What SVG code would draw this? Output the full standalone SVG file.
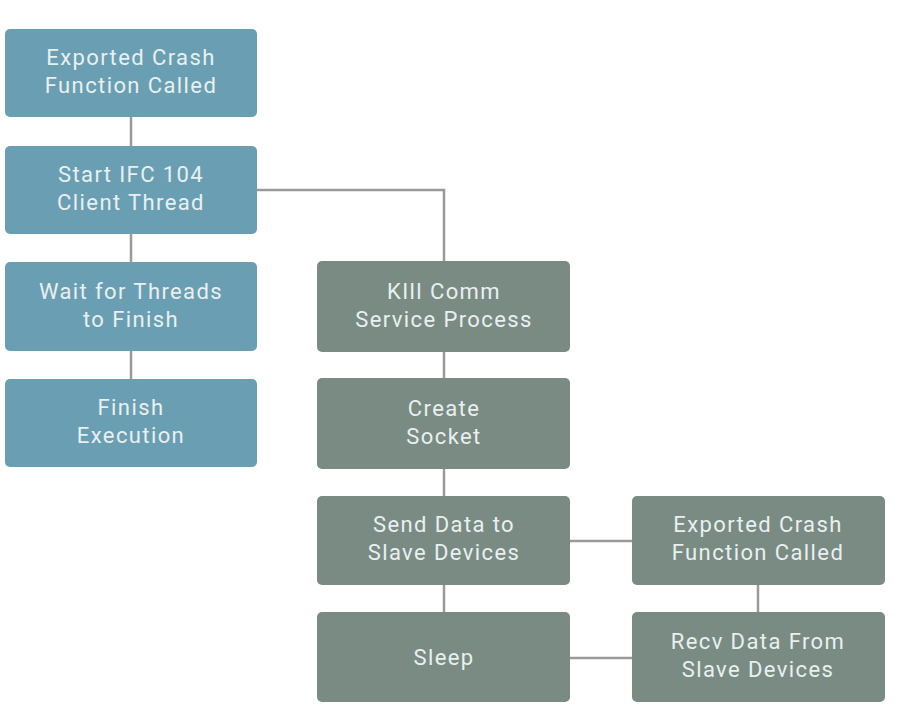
<svg xmlns="http://www.w3.org/2000/svg" width="901" height="724" viewBox="0 0 901 724">
<style>
.b rect{fill:#6a9fb3}
.g rect{fill:#7a8b84}
text{font-family:"Roboto","Liberation Sans",sans-serif;font-size:22px;letter-spacing:1.4px;fill:#e9f0f0;text-anchor:middle}
.c{stroke:#9a9a9a;stroke-width:2.5;fill:none}
</style>
<rect width="901" height="724" fill="#ffffff"/>
<g id="connectors">
<path class="c" d="M131 117V146M131 234V262M131 351V379"/>
<path class="c" d="M257 190H444V261M444 352V378M444 469V496M444 585V612"/>
<path class="c" d="M570 541H632M758 585V612M570 658H632"/>
</g>
<g id="n1" class="b"><rect x="5" y="29" width="252" height="88" rx="5"/><text x="131" y="65">Exported Crash</text><text x="131" y="93">Function Called</text></g>
<g id="n2" class="b"><rect x="5" y="146" width="252" height="88" rx="5"/><text x="131" y="182">Start IFC 104</text><text x="131" y="210">Client Thread</text></g>
<g id="n3" class="b"><rect x="5" y="262" width="252" height="89" rx="5"/><text x="131" y="299">Wait for Threads</text><text x="131" y="327">to Finish</text></g>
<g id="n4" class="b"><rect x="5" y="379" width="252" height="88" rx="5"/><text x="131" y="415">Finish</text><text x="131" y="443">Execution</text></g>
<g id="n5" class="g"><rect x="317" y="261" width="253" height="91" rx="5"/><text x="444" y="299">KIll Comm</text><text x="444" y="327">Service Process</text></g>
<g id="n6" class="g"><rect x="317" y="378" width="253" height="91" rx="5"/><text x="444" y="416">Create</text><text x="444" y="444">Socket</text></g>
<g id="n7" class="g"><rect x="317" y="496" width="253" height="89" rx="5"/><text x="444" y="532">Send Data to</text><text x="444" y="560">Slave Devices</text></g>
<g id="n8" class="g"><rect x="317" y="612" width="253" height="90" rx="5"/><text x="444" y="665">Sleep</text></g>
<g id="n9" class="g"><rect x="632" y="496" width="253" height="89" rx="5"/><text x="758" y="532">Exported Crash</text><text x="758" y="560">Function Called</text></g>
<g id="n10" class="g"><rect x="632" y="612" width="253" height="90" rx="5"/><text x="758" y="649">Recv Data From</text><text x="758" y="677">Slave Devices</text></g>
</svg>
